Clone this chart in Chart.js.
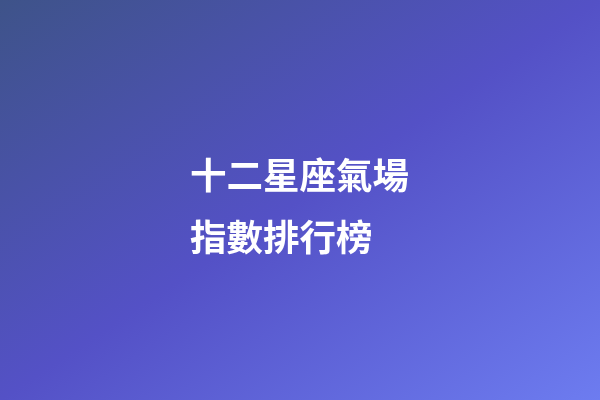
<!DOCTYPE html>
<html>
<head>
<meta charset="utf-8">
<script src="https://cdn.jsdelivr.net/npm/chart.js@4"></script>
<style>
  html, body { margin: 0; padding: 0; background: #5451c6; }
  #wrap { width: 600px; height: 400px; }
</style>
</head>
<body>
<div id="wrap"><canvas id="board"></canvas></div>
<script>
// text and colours
const titleLines = ['十二星座氣場', '指數排行榜'];
const labels = [];
const values = [];
const gradStops = [0, 0.5, 1];
const gradColors = ['#3e5389', '#5451c6', '#6d7cf0'];

const background = {
  id: 'background',
  beforeDraw(chart) {
    const ctx = chart.ctx;
    const w = chart.width, h = chart.height;
    // same direction as css "to bottom right"
    const diag = Math.sqrt(w * w + h * h);
    const half = (w * h) / diag;
    const ux = h / diag, uy = w / diag;
    const g = ctx.createLinearGradient(w / 2 - ux * half, h / 2 - uy * half,
                                       w / 2 + ux * half, h / 2 + uy * half);
    gradStops.forEach((s, i) => g.addColorStop(s, gradColors[i]));
    ctx.save();
    ctx.fillStyle = g;
    ctx.fillRect(0, 0, w, h);
    ctx.restore();
  }
};

const ctx = document.getElementById('board').getContext('2d');
new Chart(ctx, {
  type: 'bar',
  data: {
    labels: labels,
    datasets: [{ data: values }]
  },
  options: {
    responsive: true,
    maintainAspectRatio: false,
    animation: false,
    layout: { padding: { left: 190, top: 0 } },
    plugins: {
      legend: { display: false },
      tooltip: { enabled: false },
      title: {
        display: true,
        text: titleLines,
        align: 'start',
        color: '#ffffff',
        font: { family: '"Noto Sans CJK TC", "Noto Sans CJK SC", sans-serif', size: 36.5, weight: 'bold', lineHeight: 1.7 },
        padding: { top: 144, bottom: 0 }
      }
    },
    scales: {
      x: { display: false },
      y: { display: false }
    }
  },
  plugins: [background]
});
</script>
</body>
</html>
